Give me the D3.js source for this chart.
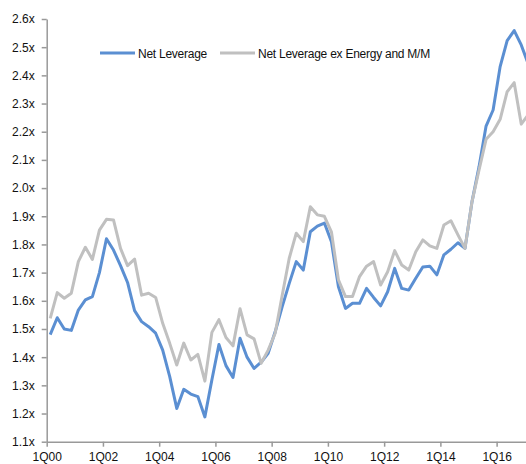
<!DOCTYPE html>
<html>
<head>
<meta charset="utf-8">
<script src="https://cdnjs.cloudflare.com/ajax/libs/d3/7.8.5/d3.min.js"></script>
<style>
  body { margin: 0; background: #fff; }
  svg { display: block; font-family: "Liberation Sans", Arial, sans-serif; }
  .axis path, .axis line { stroke: #999; stroke-width: 1.5; }
  .axis text { fill: #111; font-size: 12px; }
</style>
</head>
<body>
<svg id="chart"></svg>
<script>
// quarterly, 1Q00 .. 1Q17
const years = ["00","01","02","03","04","05","06","07","08","09","10","11","12","13","14","15","16","17"];
const quarters = [];
years.forEach(y => { for (let q = 1; q <= 4; q++) quarters.push(q + "Q" + y); });

const tickLabels = ["1Q00","1Q02","1Q04","1Q06","1Q08","1Q10","1Q12","1Q14","1Q16"];

const netLeverage = [
  1.48, 1.54, 1.50, 1.495, 1.567, 1.603, 1.615, 1.70, 1.82, 1.78, 1.725, 1.665,
  1.565, 1.526, 1.508, 1.485, 1.425, 1.331, 1.218, 1.286, 1.269, 1.26, 1.188, 1.32,
  1.445, 1.37, 1.328, 1.467, 1.40, 1.36, 1.382, 1.414, 1.49, 1.579, 1.662, 1.739,
  1.709, 1.845, 1.865, 1.876, 1.81, 1.65, 1.573, 1.591, 1.591, 1.644, 1.612, 1.582,
  1.632, 1.715, 1.644, 1.638, 1.68, 1.72, 1.723, 1.692, 1.763, 1.783, 1.806, 1.786,
  1.952, 2.076, 2.22, 2.277, 2.431, 2.523, 2.559, 2.508, 2.44
];

const netLeverageExEnergy = [
  1.538, 1.629, 1.609, 1.627, 1.739, 1.79, 1.747, 1.851, 1.889, 1.887, 1.786, 1.725,
  1.748, 1.62, 1.627, 1.612, 1.52, 1.449, 1.372, 1.45, 1.39, 1.41, 1.315, 1.488,
  1.533, 1.47, 1.44, 1.572, 1.479, 1.465, 1.378, 1.425, 1.485, 1.62, 1.751, 1.84,
  1.81, 1.934, 1.905, 1.90, 1.845, 1.674, 1.615, 1.615, 1.686, 1.723, 1.739, 1.656,
  1.703, 1.778, 1.727, 1.709, 1.774, 1.816, 1.795, 1.786, 1.869, 1.884, 1.834, 1.786,
  1.952, 2.064, 2.173, 2.20, 2.244, 2.342, 2.374, 2.227, 2.26
];

const seriesNames = ["Net Leverage", "Net Leverage ex Energy and M/M"];
const seriesColors = ["#5b8fd2", "#c0c0c0"];

const svgWidth = 526, svgHeight = 464;
const left = 46.7, catWidth = 7.03;

const svg = d3.select("#chart")
  .attr("width", svgWidth)
  .attr("height", svgHeight);

// x: one slot per quarter, points in the middle of each slot
const xScale = d3.scaleLinear()
  .domain([0, quarters.length])
  .range([left, left + quarters.length * catWidth]);

const yScale = d3.scaleLinear()
  .domain([1.1, 2.6])
  .range([441.7, 19]);

// y axis
svg.append("g")
  .attr("class", "axis")
  .attr("transform", `translate(${left},0)`)
  .call(d3.axisLeft(yScale)
    .tickValues(d3.range(11, 27).map(v => v / 10))
    .tickFormat(d => d3.format(".1f")(d) + "x")
    .tickSize(5)
    .tickSizeOuter(0)
    .tickPadding(7));

// x axis
const tickIdx = tickLabels.map(t => quarters.indexOf(t));
svg.append("g")
  .attr("class", "axis")
  .attr("transform", `translate(0,${yScale(1.1)})`)
  .call(d3.axisBottom(xScale)
    .tickValues(tickIdx)
    .tickFormat((d, i) => tickLabels[i])
    .tickSize(5)
    .tickSizeOuter(0)
    .tickPadding(6));

// lines
const line = d3.line()
  .x((d, i) => xScale(i + 0.5))
  .y(d => yScale(d));

[netLeverage, netLeverageExEnergy].forEach((values, k) => {
  svg.append("path")
    .datum(values)
    .attr("fill", "none")
    .attr("stroke", seriesColors[k])
    .attr("stroke-width", 3)
    .attr("stroke-linejoin", "round")
    .attr("d", line);
});

// legend
const legendX = [100, 220];
seriesNames.forEach((name, k) => {
  const g = svg.append("g").attr("transform", `translate(${legendX[k]},53)`);
  g.append("line")
    .attr("x1", 0).attr("x2", 35)
    .attr("stroke", seriesColors[k])
    .attr("stroke-width", 3);
  g.append("text")
    .attr("x", 38)
    .attr("y", 4.5)
    .attr("font-size", 12)
    .attr("letter-spacing", "-0.25px")
    .attr("fill", "#111")
    .text(name);
});
</script>
</body>
</html>
